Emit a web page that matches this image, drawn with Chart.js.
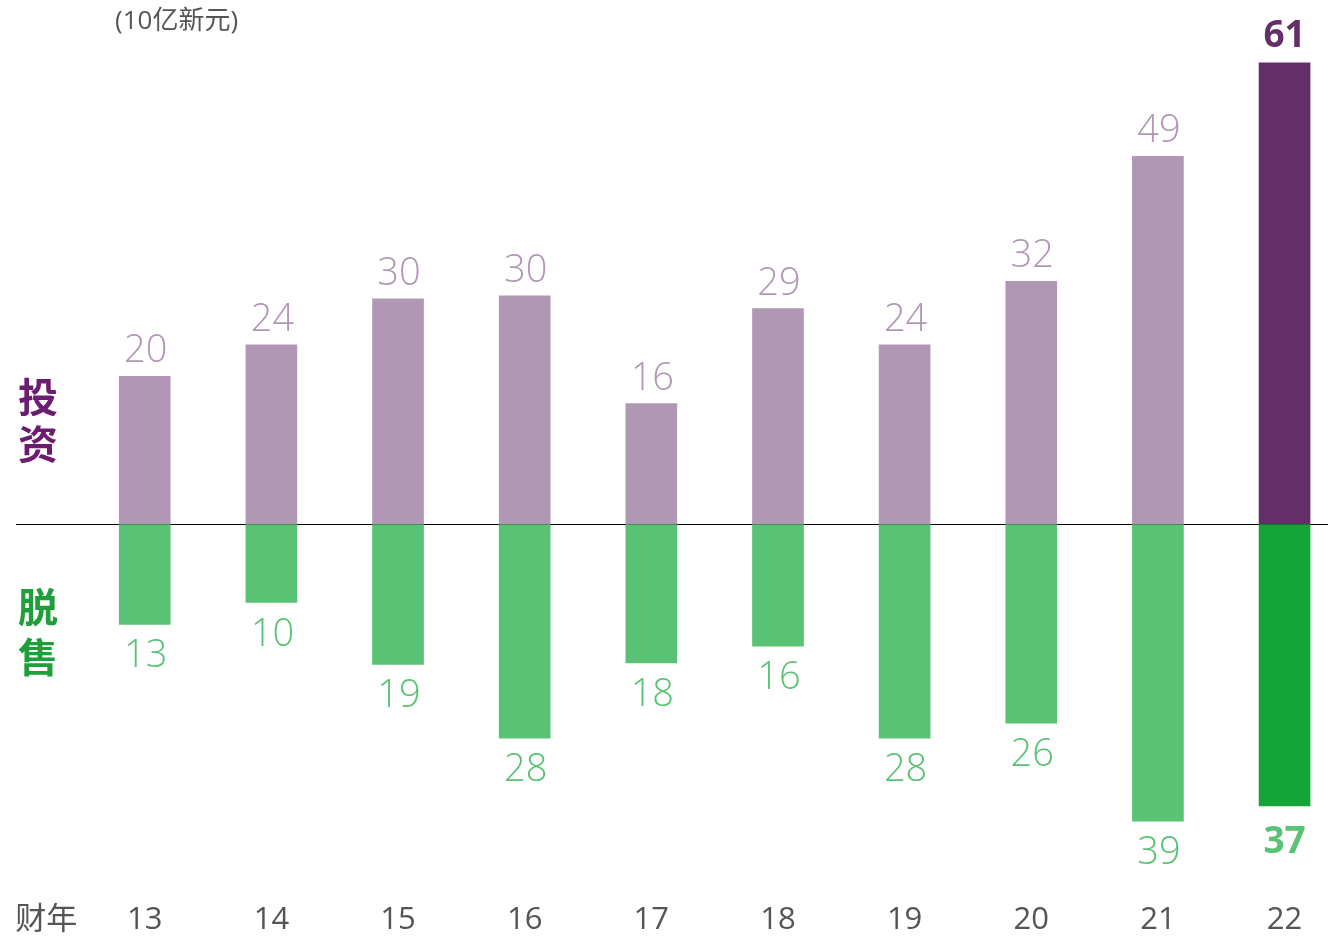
<!DOCTYPE html>
<html>
<head>
<meta charset="utf-8">
<script src="https://cdn.jsdelivr.net/npm/chart.js@4.4.0/dist/chart.umd.min.js"></script>
<style>
  html, body { margin: 0; padding: 0; background: #fff; overflow: hidden; }
  #wrap { width: 1328px; height: 937px; }
</style>
</head>
<body>
<div id="wrap"><canvas id="grafico" width="1328" height="937"></canvas></div>
<script>
var anos = ["13", "14", "15", "16", "17", "18", "19", "20", "21", "22"];
var investimentos = [19.6, 23.8, 29.9, 30.3, 16.0, 28.6, 23.8, 32.2, 48.8, 61.2];
var desinvestimentos = [13.3, 10.4, 18.6, 28.4, 18.4, 16.2, 28.4, 26.4, 39.4, 37.4];
var rotulo_ano = "财年";
var unidade = "(10亿新元)";

var cor_inv = "#b097b4", cor_inv_ultimo = "#622f68";
var cor_des = "#59c274", cor_des_ultimo = "#13a538";
var fonte = "'Open Sans', 'Noto Sans CJK SC', sans-serif";

function cores(base, ultimo) {
    return anos.map(function(a, i) { return i === anos.length - 1 ? ultimo : base; });
}

var rotulos_valores = {
    id: "rotulos_valores",
    afterDatasetsDraw: function(chart) {
        var ctx = chart.ctx;
        ctx.save();
        ctx.textAlign = "center";
        ctx.textBaseline = "alphabetic";
        var ultimo = anos.length - 1;

        chart.getDatasetMeta(0).data.forEach(function(bar, i) {
            var v = Math.round(investimentos[i]);
            if (i === ultimo) {
                ctx.font = "bold 37px " + fonte;
                ctx.fillStyle = cor_inv_ultimo;
                ctx.fillText(v, bar.x, bar.y - 16);
            } else {
                ctx.font = "300 38px " + fonte;
                ctx.fillStyle = cor_inv;
                ctx.fillText(v, bar.x + 1, bar.y - 14);
            }
        });
        chart.getDatasetMeta(1).data.forEach(function(bar, i) {
            var v = Math.round(desinvestimentos[i]);
            if (i === ultimo) {
                ctx.font = "bold 37px " + fonte;
                ctx.fillStyle = cor_des;
                ctx.fillText(v, bar.x, bar.y + 47);
            } else {
                ctx.font = "300 38px " + fonte;
                ctx.fillStyle = cor_des;
                ctx.fillText(v, bar.x + 1, bar.y + 43);
            }
        });

        // textos laterais
        ctx.textBaseline = "middle";
        ctx.font = "bold 40px 'Noto Sans CJK SC', sans-serif";
        ctx.fillStyle = "#6b1d6f";
        ctx.fillText("投", 38, 397);
        ctx.fillText("资", 38, 444);
        ctx.fillStyle = "#1f9f3a";
        ctx.fillText("脱", 38, 607);
        ctx.fillText("售", 38, 657);

        ctx.font = "26px " + fonte;
        ctx.fillStyle = "#555";
        ctx.textAlign = "left";
        ctx.fillText(unidade, 115, 22);
        ctx.restore();
    }
};

var canvas = document.getElementById("grafico");
var chart = new Chart(canvas, {
    type: "bar",
    data: {
        datasets: [
            {
                label: "投资",
                data: investimentos.map(function(v, i) { return { x: i, y: v }; }),
                backgroundColor: cores(cor_inv, cor_inv_ultimo),
                barThickness: 51,
                borderWidth: 0
            },
            {
                label: "脱售",
                data: desinvestimentos.map(function(v, i) { return { x: i, y: -v }; }),
                backgroundColor: cores(cor_des, cor_des_ultimo),
                barThickness: 51,
                borderWidth: 0
            }
        ]
    },
    options: {
        responsive: false,
        animation: false,
        layout: { autoPadding: false, padding: { left: 15, right: 0, top: 12, bottom: -14 } },
        plugins: { legend: { display: false }, tooltip: { enabled: false } },
        scales: {
            x: {
                type: "linear",
                stacked: true,
                offset: false,
                min: -1.0136,
                max: 9.343,
                grid: { display: false, drawTicks: false },
                border: { display: false },
                afterBuildTicks: function(scale) {
                    var t = [{ value: -0.777 }];
                    anos.forEach(function(a, i) { t.push({ value: i }); });
                    scale.ticks = t;
                },
                ticks: {
                    padding: 15,
                    maxRotation: 0,
                    autoSkip: false,
                    color: "#555",
                    font: { family: fonte, size: 31, lineHeight: 1 },
                    callback: function(value) {
                        if (value < 0) return rotulo_ano;
                        return anos[Math.round(value)];
                    }
                }
            },
            y: {
                stacked: true,
                min: -48.54,
                max: 67.95,
                ticks: { display: false },
                border: { display: false },
                grid: {
                    drawTicks: false,
                    lineWidth: 1,
                    color: function(c) { return c.tick && c.tick.value === 0 ? "#000" : "rgba(0,0,0,0)"; }
                },
                afterBuildTicks: function(scale) {
                    scale.ticks = [{ value: 0 }];
                }
            }
        }
    },
    plugins: [rotulos_valores]
});
</script>
</body>
</html>
